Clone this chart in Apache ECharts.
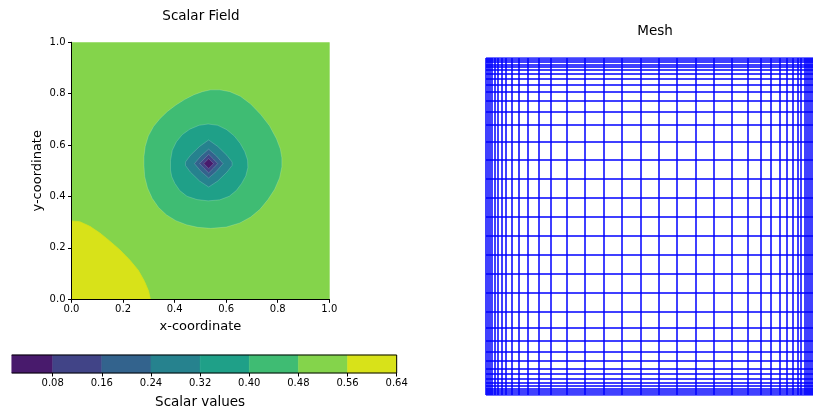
<!DOCTYPE html>
<html><head><meta charset="utf-8">
<script src="https://cdn.jsdelivr.net/npm/echarts@6/dist/echarts.min.js"></script>
<style>html,body{margin:0;padding:0;background:#fff}#c{width:813px;height:410px}</style>
</head><body><div id="c"></div>
<script>
// ---------- data ----------
const levels = [0, 0.08, 0.16, 0.24, 0.32, 0.40, 0.48, 0.56, 0.64];
const colorbarTicks = [0.08, 0.16, 0.24, 0.32, 0.40, 0.48, 0.56, 0.64];
const colorbarStart = 0.0133;           // visible start of the colour bar
const fieldTicks = [0, 0.2, 0.4, 0.6, 0.8, 1.0];
const fieldDomain = [[0,0],[1,0],[1,1],[0,1]];
// contour boundaries (x, y)
const contour056 = [[0,0],[0,0.305],[0.032,0.302],[0.071,0.284],[0.110,0.258],[0.149,0.226],[0.188,0.192],[0.226,0.153],[0.259,0.113],[0.283,0.070],[0.299,0.032],[0.306,0]];
const contour048 = [[0.281,0.520],[0.281,0.555],[0.286,0.595],[0.298,0.635],[0.318,0.672],[0.343,0.703],[0.372,0.731],[0.405,0.756],[0.440,0.778],[0.475,0.796],[0.508,0.808],[0.540,0.815],[0.575,0.815],[0.614,0.808],[0.655,0.790],[0.695,0.760],[0.735,0.718],[0.768,0.675],[0.795,0.625],[0.810,0.585],[0.816,0.550],[0.816,0.515],[0.807,0.472],[0.788,0.428],[0.762,0.388],[0.731,0.350],[0.695,0.320],[0.653,0.297],[0.600,0.281],[0.540,0.276],[0.490,0.280],[0.446,0.290],[0.405,0.306],[0.369,0.328],[0.338,0.357],[0.313,0.393],[0.295,0.433],[0.284,0.477]];
const contour040 = [[0.384,0.503],[0.384,0.540],[0.391,0.580],[0.407,0.613],[0.430,0.641],[0.459,0.662],[0.495,0.677],[0.530,0.682],[0.567,0.677],[0.602,0.660],[0.631,0.636],[0.654,0.607],[0.672,0.575],[0.683,0.542],[0.684,0.512],[0.676,0.480],[0.660,0.451],[0.639,0.423],[0.612,0.401],[0.575,0.387],[0.530,0.383],[0.487,0.388],[0.448,0.401],[0.420,0.423],[0.401,0.451],[0.389,0.477]];
const contour032 = [[0.532,0.620],[0.567,0.595],[0.603,0.560],[0.623,0.534],[0.623,0.521],[0.603,0.495],[0.567,0.460],[0.532,0.437],[0.497,0.460],[0.461,0.495],[0.442,0.521],[0.442,0.534],[0.461,0.560],[0.497,0.595]];
const contour024 = [[0.532,0.584],[0.562,0.558],[0.588,0.528],[0.562,0.498],[0.532,0.472],[0.502,0.498],[0.477,0.528],[0.502,0.558]];
const contour016 = [[0.532,0.564],[0.550,0.546],[0.567,0.528],[0.550,0.510],[0.532,0.492],[0.514,0.510],[0.497,0.528],[0.514,0.546]];
const contour008 = [[0.532,0.547],[0.551,0.528],[0.532,0.509],[0.513,0.528]];
// mesh node coordinates (same in x and y)
const meshNodes = [0, 0.0065, 0.0125, 0.0190, 0.0267, 0.0362, 0.0478, 0.0617, 0.0792, 0.1009, 0.1282, 0.1602, 0.1982, 0.2472, 0.3027, 0.3591, 0.4154, 0.4718, 0.5282, 0.5846, 0.6409, 0.6973, 0.7528, 0.8018, 0.8398, 0.8718, 0.8991, 0.9208, 0.9383, 0.9522, 0.9638, 0.9733, 0.9810, 0.9875, 0.9935, 1];

// ---------- styles ----------
const bandColors = ['#481a6c','#414487','#33638d','#26828e','#1fa088','#3fbc73','#84d44b','#d8e219'];
const FONT = 'DejaVu Sans';

const fieldRegions = [
  {band: 6, pts: fieldDomain},
  {band: 7, pts: contour056},
  {band: 5, pts: contour048},
  {band: 4, pts: contour040},
  {band: 3, pts: contour032},
  {band: 2, pts: contour024},
  {band: 1, pts: contour016},
  {band: 0, pts: contour008}
];

const chart = echarts.init(document.getElementById('c'), null, {renderer: 'canvas'});

const blackLine = {show: true, lineStyle: {color: '#000', width: 1}};
const tickStyle = {show: true, inside: false, length: 3.5, lineStyle: {color: '#000', width: 1}};
const lblStyle = {color: '#000', fontSize: 10, fontFamily: FONT};

const option = {
  animation: false,
  backgroundColor: '#fff',
  grid: [
    {left: 71.5, top: 42.3, width: 257.8, height: 257},
    {left: 3.56, top: 355, width: 393.1, height: 19.3},
    {left: 486, top: 58, width: 337, height: 337}
  ],
  xAxis: [
    {gridIndex: 0, type: 'value', min: 0, max: 1, interval: 0.2, position: 'bottom', z: 10,
     axisLine: blackLine, axisTick: tickStyle, splitLine: {show: false},
     axisLabel: Object.assign({margin: 5, formatter: v => v.toFixed(1)}, lblStyle),
     name: 'x-coordinate', nameLocation: 'middle', nameGap: 21,
     nameTextStyle: {fontSize: 13, color: '#000', fontFamily: FONT}},
    {gridIndex: 0, type: 'value', min: 0, max: 1, position: 'top', z: 10,
     axisLine: blackLine, axisTick: {show: false}, axisLabel: {show: false}, splitLine: {show: false}},
    {gridIndex: 1, type: 'value', min: 0, max: 0.64, interval: 0.08, position: 'bottom', z: 10,
     axisLine: {show: false},
     axisTick: Object.assign({customValues: colorbarTicks}, tickStyle),
     splitLine: {show: false},
     axisLabel: Object.assign({margin: 5, customValues: colorbarTicks, formatter: v => v.toFixed(2)}, lblStyle),
     name: 'Scalar values', nameLocation: 'middle', nameGap: 22,
     nameTextStyle: {fontSize: 13.5, color: '#000', fontFamily: FONT}},
    {gridIndex: 2, type: 'value', min: 0, max: 1, show: false}
  ],
  yAxis: [
    {gridIndex: 0, type: 'value', min: 0, max: 1, interval: 0.2, position: 'left', z: 10,
     axisLine: blackLine, axisTick: tickStyle, splitLine: {show: false},
     axisLabel: Object.assign({margin: 6, formatter: v => v.toFixed(1)}, lblStyle),
     name: 'y-coordinate', nameLocation: 'middle', nameGap: 27, nameRotate: 90,
     nameTextStyle: {fontSize: 13, color: '#000', fontFamily: FONT}},
    {gridIndex: 0, type: 'value', min: 0, max: 1, position: 'right', z: 10,
     axisLine: blackLine, axisTick: {show: false}, axisLabel: {show: false}, splitLine: {show: false}},
    {gridIndex: 1, type: 'value', min: 0, max: 1, show: false},
    {gridIndex: 2, type: 'value', min: 0, max: 1, show: false}
  ],
  graphic: [
    {type: 'text', x: 201, y: 16, style: {text: 'Scalar Field', fontSize: 13.5, fontFamily: FONT, fill: '#000', align: 'center', verticalAlign: 'middle'}},
    {type: 'text', x: 655, y: 31, style: {text: 'Mesh', fontSize: 13.5, fontFamily: FONT, fill: '#000', align: 'center', verticalAlign: 'middle'}}
  ],
  series: [
    {
      type: 'custom', xAxisIndex: 0, yAxisIndex: 0, clip: true, silent: true,
      data: fieldRegions.map((r, i) => [0.5, 0.5, i]),
      renderItem: function (params, api) {
        const r = fieldRegions[params.dataIndex];
        const c = bandColors[r.band];
        return {type: 'polygon', shape: {points: r.pts.map(p => api.coord(p))},
                style: {fill: c, stroke: params.dataIndex > 1 ? 'rgba(255,255,255,0.25)' : c, lineWidth: 0.7}};
      }
    },
    {
      type: 'custom', xAxisIndex: 2, yAxisIndex: 2, silent: true,
      data: levels.slice(0, -1).map((v, i) => [Math.max(v, colorbarStart), levels[i + 1], i]),
      renderItem: function (params, api) {
        const p0 = api.coord([api.value(0), 1]);
        const p1 = api.coord([api.value(1), 0]);
        return {type: 'rect', shape: {x: p0[0], y: p0[1], width: p1[0] - p0[0], height: p1[1] - p0[1]},
                style: {fill: bandColors[api.value(2)], stroke: bandColors[api.value(2)], lineWidth: 0.5}};
      }
    },
    {
      type: 'custom', xAxisIndex: 2, yAxisIndex: 2, silent: true, z: 5,
      data: [[colorbarStart, 0.64]],
      renderItem: function (params, api) {
        const a = api.value(0), b = api.value(1);
        return {type: 'polyline', shape: {points: [api.coord([a, 1]), api.coord([b, 1]), api.coord([b, 0]), api.coord([a, 0])]},
                style: {fill: null, stroke: '#000', lineWidth: 1}};
      }
    },
    {
      type: 'lines', coordinateSystem: 'cartesian2d', xAxisIndex: 3, yAxisIndex: 3, silent: true,
      polyline: false,
      lineStyle: {color: '#0000ff', width: 1.5, opacity: 1, curveness: 0},
      data: meshNodes.map(v => ({coords: [[v, 0], [v, 1]]}))
        .concat(meshNodes.map(v => ({coords: [[0, v], [1, v]]})))
    }
  ]
};
chart.setOption(option);
</script>
</body></html>
